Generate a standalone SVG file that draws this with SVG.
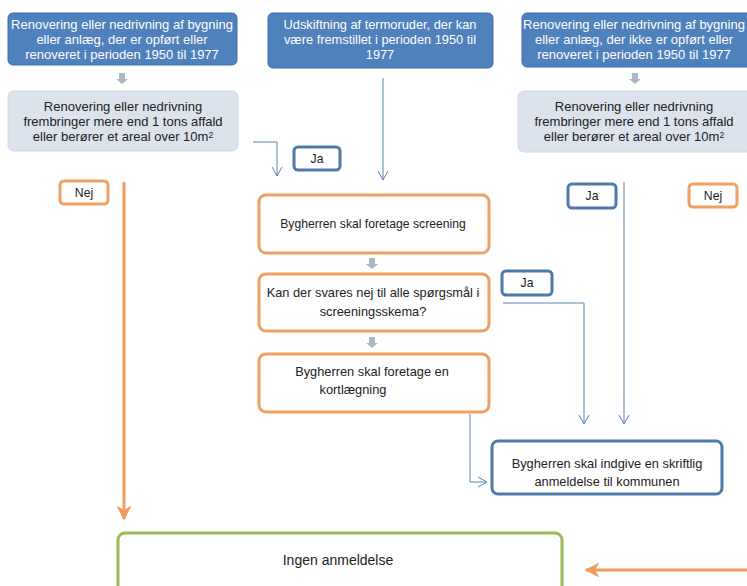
<svg xmlns="http://www.w3.org/2000/svg" width="747" height="586" viewBox="0 0 747 586">
<defs>
<style>
text{font-family:"Liberation Sans","Open Sans",sans-serif;font-size:11px;text-anchor:middle}
.w{fill:#ffffff}
.d{fill:#222222}
.t1{font-size:13px}
.t2{font-size:12.8px}
.t3{font-size:13px}
.t4{font-size:12.8px}
.t5{font-size:12.2px}
.t6{font-size:14px}
.blue{fill:#4f81bd;stroke:#3f6fa8;stroke-width:1}
.gray{fill:#dce3ed;stroke:#d0d8e4;stroke-width:1}
.ob{fill:#ffffff;stroke:#f0a060;stroke-width:3}
.bb{fill:#ffffff;stroke:#4f79a8;stroke-width:3}
.gb{fill:#ffffff;stroke:#9bbb59;stroke-width:3}
.thin{fill:none;stroke:#5a84b5;stroke-width:1}
.thick{fill:none;stroke:#f29b5e;stroke-width:3}
.ga{fill:#a9b7c9}
</style>
<marker id="va" viewBox="0 0 12 12" refX="10" refY="6" markerWidth="12" markerHeight="12" markerUnits="userSpaceOnUse" orient="auto">
<path d="M1,1 L10,6 L1,11" fill="none" stroke="#5a84b5" stroke-width="1"/>
</marker>
<marker id="oa" viewBox="0 0 10 10" refX="9" refY="5" markerWidth="5" markerHeight="5" orient="auto">
<path d="M0,0 L10,5 L0,10 L3,5 Z" fill="#f29b5e"/>
</marker>
</defs>
<rect width="747" height="586" fill="#ffffff"/>
<g id="connectors">
<path class="thin" d="M253,142 H277 V176" marker-end="url(#va)"/>
<path class="thin" d="M383,78 V180" marker-end="url(#va)"/>
<path class="thin" d="M503,303 H584 V424" marker-end="url(#va)"/>
<path class="thin" d="M624,182 V424" marker-end="url(#va)"/>
<path class="thin" d="M470,414 V482 H487" marker-end="url(#va)"/>
<path class="thick" d="M124,182 V519" marker-end="url(#oa)"/>
<path class="thick" d="M747,570 H586" marker-end="url(#oa)"/>
<path class="ga" d="M119,73 h6 v6 h3 l-6,5 l-6,-5 h3 z"/>
<path class="ga" d="M632,73 h6 v6 h3 l-6,5 l-6,-5 h3 z"/>
<path class="ga" d="M369,258 h6 v6 h3 l-6,5 l-6,-5 h3 z"/>
<path class="ga" d="M369,337 h6 v6 h3 l-6,5 l-6,-5 h3 z"/>
</g>
<g id="top-left">
<rect class="blue" x="8" y="13" width="229" height="52" rx="5"/>
<text class="w t1" x="122" y="29">Renovering eller nedrivning af bygning</text>
<text class="w t1" x="122" y="44">eller anlæg, der er opført eller</text>
<text class="w t1" x="122" y="59">renoveret  i perioden 1950 til 1977</text>
</g>
<g id="gray-left">
<rect class="gray" x="8" y="91" width="230" height="60" rx="6"/>
<text class="d t3" x="123" y="111">Renovering eller nedrivning</text>
<text class="d t3" x="123" y="126">frembringer mere end 1 tons affald</text>
<text class="d t3" x="123" y="141">eller berører et areal over 10m<tspan dy="-3" font-size="8.5">2</tspan></text>
</g>
<g id="top-middle">
<rect class="blue" x="268" y="13" width="225" height="55" rx="5"/>
<text class="w t2" x="380" y="29">Udskiftning af termoruder,  der kan</text>
<text class="w t2" x="380" y="44">være fremstillet i perioden 1950 til</text>
<text class="w t2" x="380" y="59">1977</text>
</g>
<g id="top-right">
<rect class="blue" x="522" y="13" width="230" height="54" rx="5"/>
<text class="w t1" x="634" y="29">Renovering eller nedrivning af bygning</text>
<text class="w t1" x="634" y="44">eller anlæg, der  ikke er opført eller</text>
<text class="w t1" x="634" y="59">renoveret  i perioden 1950 til 1977</text>
</g>
<g id="gray-right">
<rect class="gray" x="518" y="91" width="234" height="61" rx="6"/>
<text class="d t3" x="634" y="111">Renovering eller nedrivning</text>
<text class="d t3" x="634" y="126">frembringer mere end 1 tons affald</text>
<text class="d t3" x="634" y="141">eller berører et areal over 10m<tspan dy="-3" font-size="8.5">2</tspan></text>
</g>
<g id="ja-1">
<rect class="bb" x="294" y="147" width="46" height="23" rx="4"/>
<text class="d t5" x="317" y="163">Ja</text>
</g>
<g id="nej-left">
<rect class="ob" x="60" y="181" width="48" height="23" rx="4"/>
<text class="d t5" x="84" y="197">Nej</text>
</g>
<g id="ja-right">
<rect class="bb" x="568" y="184" width="48" height="24" rx="4"/>
<text class="d t5" x="592" y="200">Ja</text>
</g>
<g id="nej-right">
<rect class="ob" x="689" y="184" width="48" height="23" rx="4"/>
<text class="d t5" x="713" y="200">Nej</text>
</g>
<g id="screening">
<rect class="ob" x="259" y="195" width="230" height="58" rx="7"/>
<text class="d t5" x="373" y="228">Bygherren skal foretage screening</text>
</g>
<g id="question">
<rect class="ob" x="259" y="274" width="230" height="57" rx="7"/>
<text class="d t4" x="373" y="297">Kan der svares nej til alle spørgsmål i</text>
<text class="d t4" x="373" y="316">screeningsskema?</text>
</g>
<g id="ja-2">
<rect class="bb" x="502" y="271" width="50" height="24" rx="4"/>
<text class="d t5" x="527" y="287">Ja</text>
</g>
<g id="kortlaegning">
<rect class="ob" x="259" y="354" width="230" height="58" rx="7"/>
<text class="d t4" x="372" y="376">Bygherren skal foretage en</text>
<text class="d t4" x="353" y="394">kortlægning</text>
</g>
<g id="anmeldelse">
<rect class="bb" x="492" y="441" width="230" height="53" rx="6"/>
<text class="d t4" x="607" y="468">Bygherren skal indgive en skriftlig</text>
<text class="d t4" x="607" y="486">anmeldelse til kommunen</text>
</g>
<g id="ingen">
<rect class="gb" x="118" y="533" width="444" height="70" rx="7"/>
<text class="d t6" x="338" y="565">Ingen anmeldelse</text>
</g>
</svg>
